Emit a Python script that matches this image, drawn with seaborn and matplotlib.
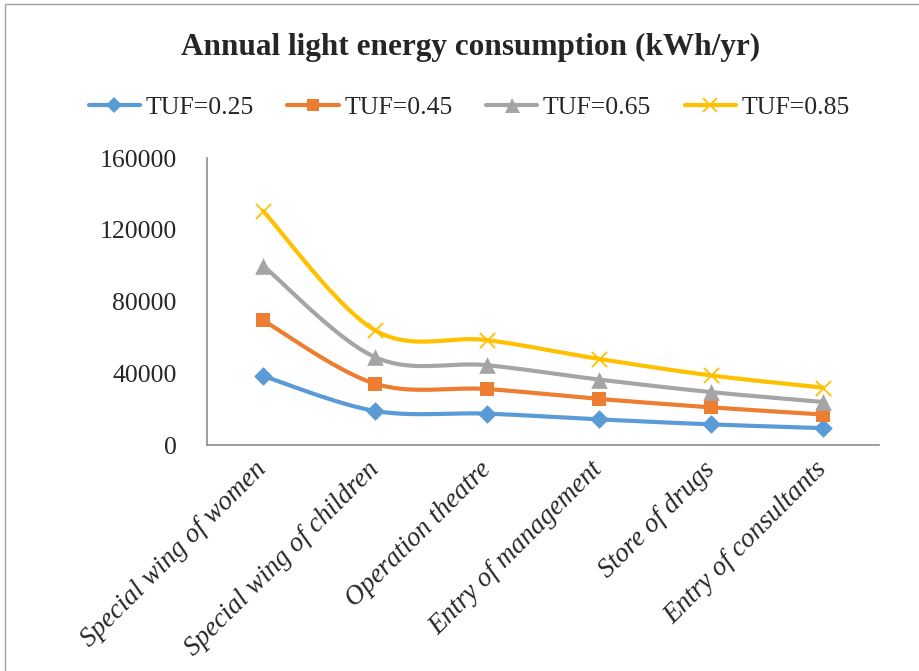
import numpy as np
import pandas as pd
import seaborn as sns
import matplotlib.pyplot as plt
from matplotlib.lines import Line2D
from matplotlib.patches import Rectangle

categories = ['Special wing of women', 'Special wing of children', 'Operation theatre',
              'Entry of management', 'Store of drugs', 'Entry of consultants']
tuf_025 = [38500, 19000, 17500, 14300, 11500, 9400]
tuf_045 = [69500, 34200, 31200, 25700, 21000, 17000]
tuf_065 = [100000, 49000, 44500, 36500, 29500, 24000]
tuf_085 = [130500, 64000, 58500, 48000, 38800, 32000]
series_names = ['TUF=0.25', 'TUF=0.45', 'TUF=0.65', 'TUF=0.85']
yticks = [0, 40000, 80000, 120000, 160000]

colors = ['#5B9BD5', '#ED7D31', '#A5A5A5', '#FFC000']
markers = ['D', 's', '^', 'x']
msizes = [9.5, 10, 12, 11]


def smooth(vals, n=40):
    # excel-like smoothed line (catmull-rom as bezier)
    pts = np.c_[np.arange(len(vals)), np.asarray(vals, float)]
    out = []
    t = np.linspace(0, 1, n)[:, None]
    for i in range(len(pts) - 1):
        p0 = pts[max(i - 1, 0)]
        p1 = pts[i]
        p2 = pts[i + 1]
        p3 = pts[min(i + 2, len(pts) - 1)]
        c1 = p1 + (p2 - p0) / 6
        c2 = p2 - (p3 - p1) / 6
        seg = (1 - t) ** 3 * p1 + 3 * (1 - t) ** 2 * t * c1 + 3 * (1 - t) * t ** 2 * c2 + t ** 3 * p2
        out.append(seg if i == 0 else seg[1:])
    return np.vstack(out)


sns.set_theme(style='white')
plt.rcParams['font.family'] = ['Liberation Serif', 'DejaVu Serif']

fig = plt.figure(figsize=(9.2, 6.71), dpi=100)
ax = fig.add_axes([0.225, 0.3368, 0.7304, 0.4277])

all_series = [tuf_025, tuf_045, tuf_065, tuf_085]
for name, vals, c, m, ms in zip(series_names, all_series, colors, markers, msizes):
    curve = smooth(vals)
    df_c = pd.DataFrame({'x': curve[:, 0], 'y': curve[:, 1]})
    sns.lineplot(data=df_c, x='x', y='y', ax=ax, color=c, linewidth=3, sort=False,
                 estimator=None)
    df_p = pd.DataFrame({'x': np.arange(len(vals)), 'y': vals})
    if m == 'x':
        sns.scatterplot(data=df_p, x='x', y='y', ax=ax, color=c, marker='x', s=ms ** 2,
                        linewidth=1.3, zorder=5)
    else:
        sns.scatterplot(data=df_p, x='x', y='y', ax=ax, color=c, marker=m, s=ms ** 2,
                        edgecolor=c, linewidth=0, zorder=5)

ax.set_xlim(-0.5, len(categories) - 0.5)
ax.set_ylim(0, 160000)
ax.set_yticks(yticks)
ax.set_yticklabels([str(v) for v in yticks], fontsize=18.5)
ax.set_xticks(range(len(categories)))
ax.set_xticklabels(categories, fontsize=19.5, style='italic', rotation=45,
                   ha='right', va='center', rotation_mode='anchor')
ax.tick_params(axis='x', length=0, pad=15)
ax.tick_params(axis='y', length=0, pad=22)
ax.set_xlabel('')
ax.set_ylabel('')
for s in ['top', 'right']:
    ax.spines[s].set_visible(False)
for s in ['left', 'bottom']:
    ax.spines[s].set_color('#8c8c8c')
    ax.spines[s].set_linewidth(1.2)

fig.text(0.511, 0.929, 'Annual light energy consumption (kWh/yr)', ha='center', va='center',
         fontsize=22.5, fontweight='bold')

handles = [Line2D([0], [0], color=c, lw=3, marker=m, markersize=ms * 0.9,
                  markeredgewidth=1.3 if m == 'x' else 0)
           for c, m, ms in zip(colors, markers, msizes)]
fig.legend(handles, series_names, loc='center', bbox_to_anchor=(0.51, 0.84), ncol=4,
           frameon=False, fontsize=18.5, handlelength=2.0, handletextpad=0.22,
           columnspacing=1.3, borderaxespad=0)

# chart border
fig.add_artist(Rectangle((5 / 920, -0.2), 1.2, 1.2 - 4 / 671, transform=fig.transFigure,
                         fill=False, edgecolor='#a0a0a0', linewidth=1, clip_on=False))

fig.savefig('out.png', dpi=100, facecolor='white')
